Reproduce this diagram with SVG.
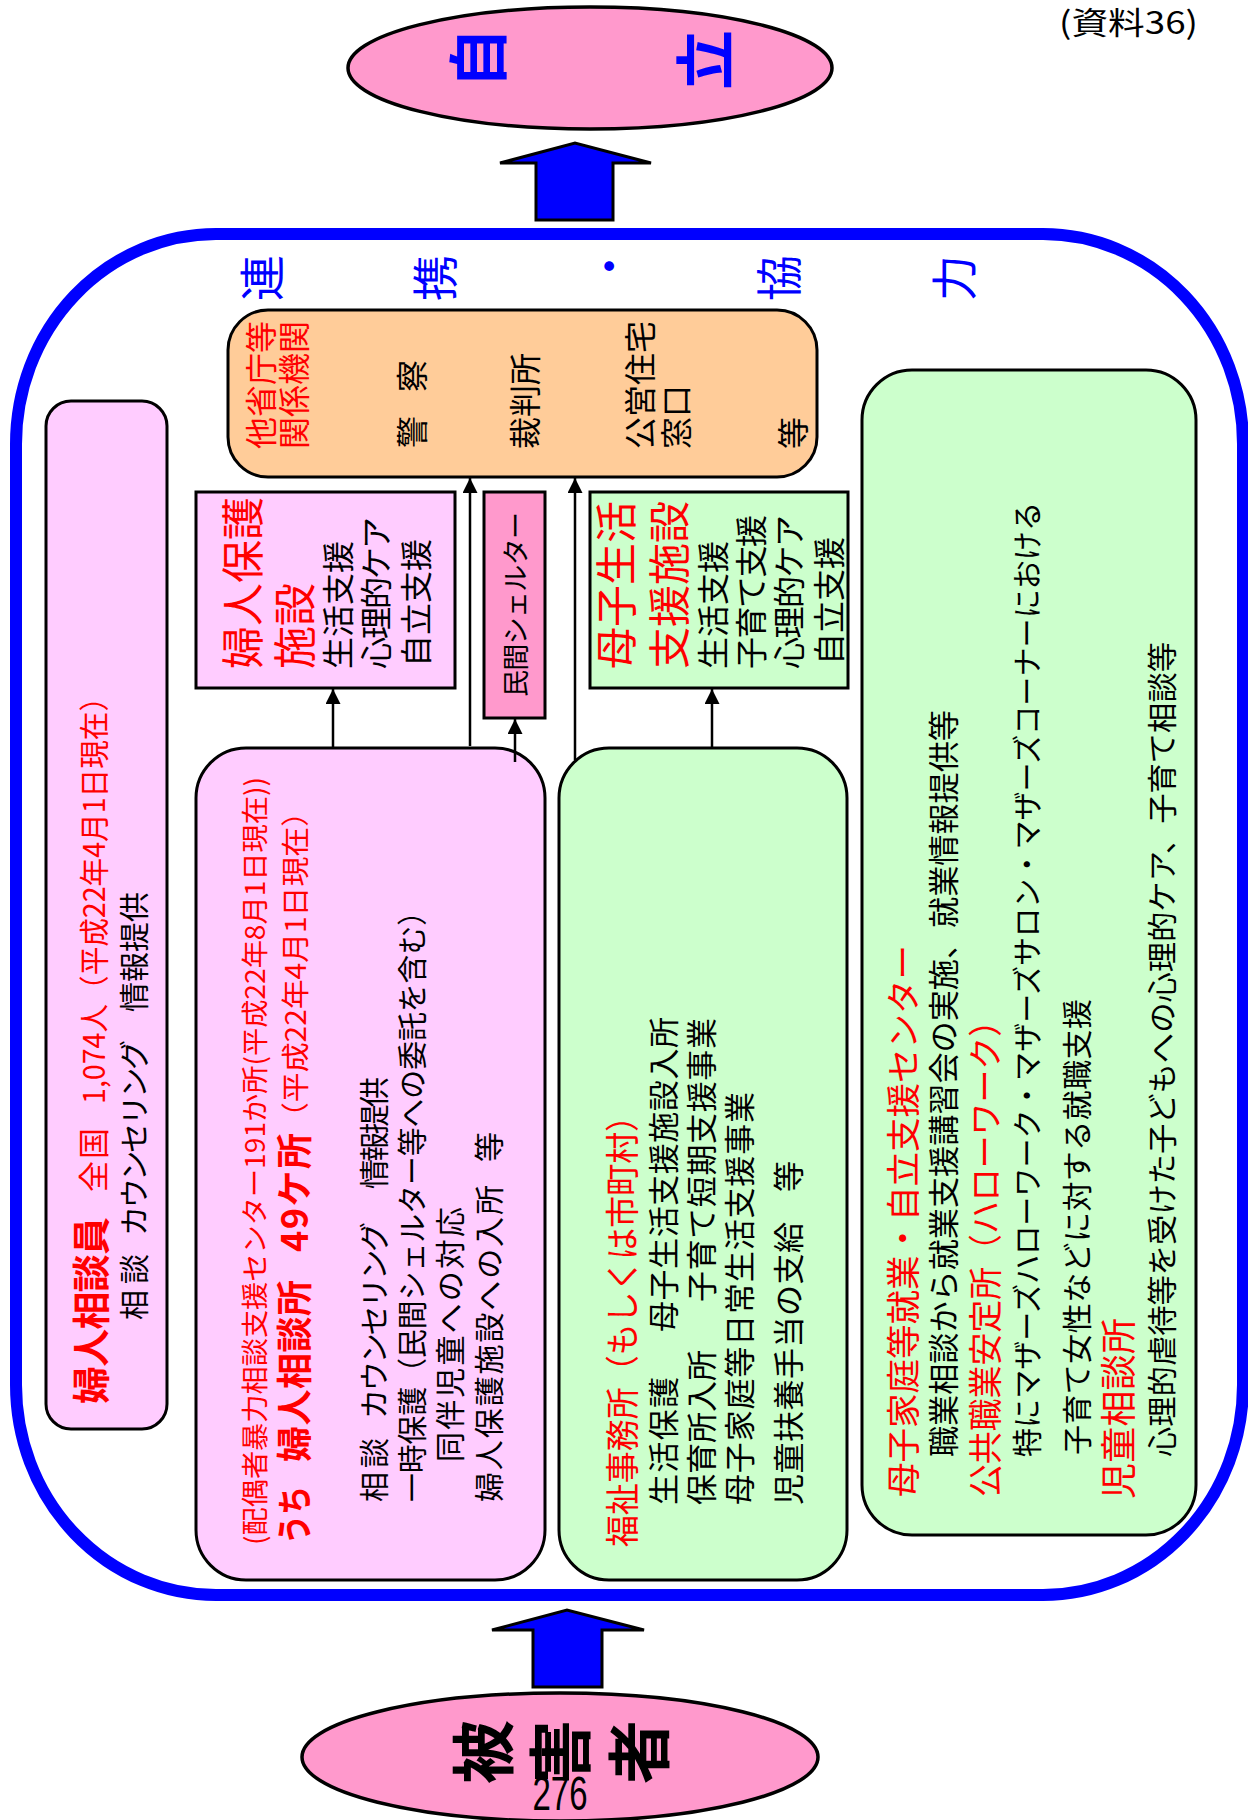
<svg xmlns="http://www.w3.org/2000/svg" width="1248" height="1820" viewBox="0 0 1248 1820">
<defs>
<style>
.t{font-family:"Noto Sans CJK JP","Noto Sans",sans-serif;}
.r{fill:#FF0000;}
.k{fill:#000000;}
.bl{fill:#0000FF;}
.bd{font-weight:bold;}
.box{stroke:#000;stroke-width:3;}
.con{stroke:#000;stroke-width:2.5;fill:none;marker-end:url(#ah);}
.big{fill:#0000FF;stroke:#000;stroke-width:3;stroke-linejoin:miter;}
</style>
<marker id="ah" viewBox="0 0 10 10" refX="10" refY="5" markerUnits="userSpaceOnUse" markerWidth="15" markerHeight="15" orient="auto">
<path d="M0,0 L10,5 L0,10 z" fill="#000"/>
</marker>
</defs>
<rect width="1248" height="1820" fill="#FFFFFF"/>

<text class="t k" x="1059" y="34" font-size="31" textLength="139" lengthAdjust="spacingAndGlyphs">(資料36)</text>

<g id="jiritsu">
<ellipse cx="590" cy="68" rx="242" ry="61" fill="#FF99CC" stroke="#000" stroke-width="3.5"/>
<text class="t bl bd" font-size="60" text-anchor="middle" transform="translate(501,58) rotate(-90)">自</text>
<text class="t bl bd" font-size="60" text-anchor="middle" transform="translate(728,60) rotate(-90)">立</text>
</g>

<g id="arrow-top">
<polygon class="big" points="536,220 536,163 500,163 575,143 651,163 613,163 613,220"/>
</g>

<g id="frame">
<rect x="16" y="234" width="1227" height="1361" rx="200" ry="210" fill="#FFFFFF" stroke="#0000FF" stroke-width="12"/>
<text class="t bl" font-size="46" text-anchor="middle" transform="translate(279,278) rotate(-90)">連</text>
<text class="t bl" font-size="46" text-anchor="middle" transform="translate(452,278) rotate(-90)">携</text>
<text class="t bl" font-size="46" text-anchor="middle" transform="translate(626,266) rotate(-90)">・</text>
<text class="t bl" font-size="46" text-anchor="middle" transform="translate(796,278) rotate(-90)">協</text>
<text class="t bl" font-size="46" text-anchor="middle" transform="translate(971,278) rotate(-90)">力</text>
</g>

<g id="arrow-bottom">
<polygon class="big" points="533,1687 533,1630 492,1630 567,1610 644,1630 602,1630 602,1687"/>
</g>

<g id="higaisha">
<ellipse cx="560" cy="1757" rx="258" ry="64" fill="#FF99CC" stroke="#000" stroke-width="3.5"/>
<text class="t k bd" font-size="64" text-anchor="middle" transform="translate(507,1752) rotate(-90)">被</text>
<text class="t k bd" font-size="64" text-anchor="middle" transform="translate(584,1752) rotate(-90)">害</text>
<text class="t k bd" font-size="64" text-anchor="middle" transform="translate(663,1752) rotate(-90)">者</text>
<text x="560" y="1810" font-family="'Liberation Sans',sans-serif" font-size="48" text-anchor="middle" textLength="55" lengthAdjust="spacingAndGlyphs" fill="#000">276</text>
</g>

<g id="kankei">
<rect class="box" x="228" y="310" width="589" height="167" rx="40" ry="40" fill="#FFCC99"/>
<text class="t r" font-size="32" transform="translate(273,449) rotate(-90)">他省庁等</text>
<text class="t r" font-size="32" transform="translate(306,449) rotate(-90)">関係機関</text>
<text class="t k" font-size="32" transform="translate(424,448) rotate(-90)">警</text>
<text class="t k" font-size="32" transform="translate(424,392) rotate(-90)">察</text>
<text class="t k" font-size="32" transform="translate(537,449) rotate(-90)">裁判所</text>
<text class="t k" font-size="32" transform="translate(652,449) rotate(-90)">公営住宅</text>
<text class="t k" font-size="32" transform="translate(688,449) rotate(-90)">窓口</text>
<text class="t k" font-size="32" transform="translate(805,449) rotate(-90)">等</text>
</g>

<g id="fujin-hogo-shisetsu">
<rect class="box" x="196" y="492" width="259" height="196" fill="#FFCCFF"/>
<text class="t r" font-size="43" transform="translate(259,669) rotate(-90)">婦人保護</text>
<text class="t r" font-size="43" transform="translate(311,669) rotate(-90)">施設</text>
<text class="t k" font-size="32" transform="translate(350,669) rotate(-90)">生活支援</text>
<text class="t k" font-size="32" transform="translate(388,669) rotate(-90)" textLength="152">心理的ケア</text>
<text class="t k" font-size="32" transform="translate(428,667) rotate(-90)">自立支援</text>
</g>

<g id="minkan-shelter">
<rect class="box" x="484" y="492" width="61" height="226" fill="#FF99CC"/>
<text class="t k" font-size="27" transform="translate(526,697) rotate(-90)" textLength="185">民間シェルター</text>
</g>

<g id="boshi-seikatsu-shisetsu">
<rect class="box" x="590" y="492" width="258" height="196" fill="#CCFFCC"/>
<text class="t r" font-size="42" transform="translate(632,669) rotate(-90)">母子生活</text>
<text class="t r" font-size="42" transform="translate(685,669) rotate(-90)">支援施設</text>
<text class="t k" font-size="32" transform="translate(725,669) rotate(-90)">生活支援</text>
<text class="t k" font-size="32" transform="translate(763,669) rotate(-90)" textLength="154">子育て支援</text>
<text class="t k" font-size="32" transform="translate(801,669) rotate(-90)" textLength="154">心理的ケア</text>
<text class="t k" font-size="32" transform="translate(841,665) rotate(-90)">自立支援</text>
</g>

<g id="fujin-soudanin">
<rect class="box" x="46" y="401" width="121" height="1028" rx="25" ry="25" fill="#FFCCFF"/>
<text class="t r bd" font-size="38" transform="translate(105,1404) rotate(-90)" textLength="187">婦人相談員</text>
<text class="t r" font-size="31" transform="translate(105,1192) rotate(-90)" textLength="64">全国</text>
<text class="t r" font-size="30" transform="translate(105,1104) rotate(-90)" textLength="421" lengthAdjust="spacingAndGlyphs">1,074人（平成22年4月1日現在）</text>
<text class="t k" font-size="30" transform="translate(145,1320) rotate(-90)" textLength="66">相談</text>
<text class="t k" font-size="30" transform="translate(145,1236) rotate(-90)" textLength="196">カウンセリング</text>
<text class="t k" font-size="30" transform="translate(145,1012) rotate(-90)" textLength="120">情報提供</text>
</g>

<g id="fujin-soudanjo">
<rect class="box" x="196" y="748" width="349" height="832" rx="50" ry="50" fill="#FFCCFF"/>
<text class="t r" font-size="27" transform="translate(265,1545) rotate(-90)" textLength="768" lengthAdjust="spacingAndGlyphs">(配偶者暴力相談支援センター191か所(平成22年8月1日現在))</text>
<text class="t r bd" font-size="36" transform="translate(308,1544) rotate(-90)" textLength="58" lengthAdjust="spacingAndGlyphs">うち</text>
<text class="t r bd" font-size="36" transform="translate(308,1462) rotate(-90)" textLength="182">婦人相談所</text>
<text class="t r bd" font-size="36" transform="translate(308,1252) rotate(-90)" textLength="119">49ケ所</text>
<text class="t r" font-size="28" transform="translate(306,1132) rotate(-90)" textLength="335" lengthAdjust="spacingAndGlyphs">（平成22年4月1日現在）</text>
<text class="t k" font-size="30" transform="translate(385,1502) rotate(-90)" textLength="64">相談</text>
<text class="t k" font-size="30" transform="translate(385,1419) rotate(-90)" textLength="197">カウンセリング</text>
<text class="t k" font-size="30" transform="translate(385,1189) rotate(-90)" textLength="112">情報提供</text>
<text class="t k" font-size="30" transform="translate(423,1502) rotate(-90)" textLength="605" lengthAdjust="spacingAndGlyphs">一時保護（民間シェルター等への委託を含む）</text>
<text class="t k" font-size="30" transform="translate(461,1462) rotate(-90)" textLength="255">同伴児童への対応</text>
<text class="t k" font-size="30" transform="translate(500,1502) rotate(-90)" textLength="317">婦人保護施設への入所</text>
<text class="t k" font-size="30" transform="translate(500,1162) rotate(-90)">等</text>
</g>

<g id="fukushi-jimusho">
<rect class="box" x="559" y="748" width="288" height="832" rx="50" ry="50" fill="#CCFFCC"/>
<text class="t r" font-size="34" transform="translate(635,1547) rotate(-90)" textLength="447" lengthAdjust="spacingAndGlyphs">福祉事務所（もしくは市町村）</text>
<text class="t k" font-size="31" transform="translate(675,1505) rotate(-90)" textLength="128">生活保護</text>
<text class="t k" font-size="31" transform="translate(675,1332) rotate(-90)" textLength="315">母子生活支援施設入所</text>
<text class="t k" font-size="31" transform="translate(713,1505) rotate(-90)" textLength="155">保育所入所</text>
<text class="t k" font-size="31" transform="translate(713,1302) rotate(-90)" textLength="284">子育て短期支援事業</text>
<text class="t k" font-size="31" transform="translate(751,1505) rotate(-90)" textLength="413">母子家庭等日常生活支援事業</text>
<text class="t k" font-size="31" transform="translate(800,1505) rotate(-90)" textLength="283">児童扶養手当の支給</text>
<text class="t k" font-size="31" transform="translate(800,1192) rotate(-90)">等</text>
</g>

<g id="shuugyou-shien">
<rect class="box" x="862" y="370" width="334" height="1165" rx="50" ry="50" fill="#CCFFCC"/>
<text class="t r" font-size="34" transform="translate(916,1497) rotate(-90)" textLength="552" lengthAdjust="spacingAndGlyphs">母子家庭等就業・自立支援センター</text>
<text class="t k" font-size="31" transform="translate(955,1457) rotate(-90)" textLength="747" lengthAdjust="spacingAndGlyphs">職業相談から就業支援講習会の実施、就業情報提供等</text>
<text class="t r" font-size="34" transform="translate(998,1497) rotate(-90)" textLength="493" lengthAdjust="spacingAndGlyphs">公共職業安定所（ハローワーク）</text>
<text class="t k" font-size="30" transform="translate(1038,1457) rotate(-90)" textLength="955" lengthAdjust="spacingAndGlyphs">特にマザーズハローワーク・マザーズサロン・マザーズコーナーにおける</text>
<text class="t k" font-size="30" transform="translate(1088,1455) rotate(-90)" textLength="456">子育て女性などに対する就職支援</text>
<text class="t r" font-size="36" transform="translate(1132,1499) rotate(-90)" textLength="181">児童相談所</text>
<text class="t k" font-size="30" transform="translate(1173,1457) rotate(-90)" textLength="815" lengthAdjust="spacingAndGlyphs">心理的虐待等を受けた子どもへの心理的ケア、子育て相談等</text>
</g>

<g id="connectors">
<path class="con" d="M333,748 V689"/>
<path class="con" d="M470,746 V478"/>
<path class="con" d="M515,762 V719"/>
<path class="con" d="M575,760 V478"/>
<path class="con" d="M712,748 V689"/>
</g>
</svg>
